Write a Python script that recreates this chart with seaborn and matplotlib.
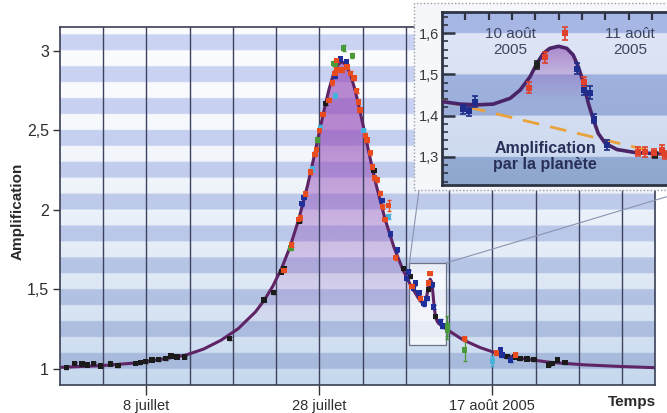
import numpy as np
import pandas as pd
import matplotlib
matplotlib.use("Agg")
import matplotlib.pyplot as plt
import seaborn as sns
from matplotlib.patches import Rectangle, ConnectionPatch
from matplotlib.ticker import MultipleLocator
from matplotlib import font_manager

# ---------------------------------------------------------------
# Light curve of the microlensing event (days counted from 8 July 2005)
# ---------------------------------------------------------------
curve_day = [-10.0, -5.4, -1.4, 2.6, 4.6, 6.6, 8.6, 10.6, 12.6, 13.6, 14.6, 15.6,
             16.6, 17.6, 18.6, 19.1, 19.6, 20.1, 20.6, 21.1, 21.6, 22.1, 22.6,
             23.1, 23.6, 24.1, 24.6, 25.1, 25.6, 26.1, 26.6, 27.6, 28.6, 29.6,
             30.6, 31.6, 31.9, 32.2, 32.45, 32.65, 32.8, 32.95, 33.1, 33.25,
             33.4, 33.6, 33.8, 34.6, 36.6, 38.6, 40.6, 42.6, 46.6, 50.6, 54.6, 58.8]
curve_amp = [1.010, 1.020, 1.037, 1.068, 1.088, 1.125, 1.180, 1.253, 1.359, 1.431,
             1.520, 1.630, 1.768, 1.940, 2.149, 2.267, 2.391, 2.519, 2.644, 2.758,
             2.851, 2.912, 2.933, 2.912, 2.851, 2.758, 2.644, 2.519, 2.391, 2.267,
             2.149, 1.940, 1.768, 1.630, 1.520, 1.431, 1.415, 1.420, 1.470, 1.540,
             1.565, 1.550, 1.490, 1.400, 1.335, 1.300, 1.285, 1.253, 1.183, 1.134,
             1.097, 1.072, 1.042, 1.026, 1.016, 1.008]

# Observations, one group per telescope colour
black_day = [-9.25, -8.3, -7.45, -6.85, -6.1, -5.3, -4.15, -3.3, -1.25, -0.7, -0.1,
             0.65, 1.4, 2.2, 2.85, 3.55, 4.4, 9.6, 13.6, 14.7, 15.6, 15.9, 17.7,
             20.7, 26.3, 29.75, 30.5, 32.6, 33.4, 41.7, 42.6, 43.2, 44.0, 44.8,
             46.5, 46.9, 47.5, 48.4]
black_amp = [1.008, 1.036, 1.030, 1.025, 1.036, 1.019, 1.030, 1.021, 1.036, 1.039,
             1.046, 1.057, 1.061, 1.065, 1.082, 1.074, 1.074, 1.193, 1.434, 1.48,
             1.61, 1.633, 1.93, 2.67, 2.25, 1.63, 1.58, 1.50, 1.33, 1.077, 1.075,
             1.067, 1.063, 1.061, 1.025, 1.036, 1.057, 1.040]
black_err = [0.008] * len(black_day)

red_day = [15.9, 16.8, 17.6, 17.8, 18.4, 19.0, 19.5, 19.65, 20.0, 20.4, 21.1, 21.5,
           21.8, 22.0, 22.0, 22.6, 23.2, 23.6, 24.0, 24.3, 24.5, 24.7, 25.3, 25.5,
           25.9, 26.1, 26.4, 26.7, 27.05, 27.3, 27.6, 28.0, 28.8, 30.7, 31.7, 32.6,
           32.8, 36.8, 40.5, 42.7]
red_amp = [1.62, 1.78, 1.94, 1.95, 2.10, 2.24, 2.35, 2.38, 2.50, 2.60, 2.69, 2.80,
           2.86, 2.88, 2.94, 2.88, 2.90, 2.86, 2.83, 2.75, 2.68, 2.63, 2.47, 2.44,
           2.36, 2.27, 2.20, 2.19, 2.105, 2.02, 1.94, 2.03, 1.70, 1.52, 1.445, 1.54,
           1.60, 1.19, 1.10, 1.088]
red_err = [0.012] * 31 + [0.035] + [0.012] * 8

blue_day = [18.0, 18.2, 21.85, 22.4, 23.1, 27.25, 28.2, 29.0, 30.1, 30.3, 30.9,
            31.1, 31.5, 32.1, 32.45, 33.0, 33.2, 34.0, 34.2, 40.9, 41.1, 42.1]
blue_amp = [2.04, 2.08, 2.84, 2.95, 2.93, 2.06, 1.85, 1.75, 1.57, 1.61, 1.51,
            1.54, 1.48, 1.41, 1.445, 1.53, 1.39, 1.30, 1.27, 1.12, 1.088, 1.057]
blue_err = [0.012] * len(blue_day)

green_day = [16.7, 19.8, 21.7, 21.85, 22.8, 23.8, 34.75, 34.8, 36.8]
green_amp = [1.76, 2.44, 2.92, 2.92, 3.02, 2.97, 1.27, 1.24, 1.12]
green_err = [0.012, 0.012, 0.015, 0.015, 0.02, 0.015, 0.06, 0.05, 0.07]

cyan_day = [19.2, 20.1, 21.85, 25.1, 28.0, 40.0]
cyan_amp = [2.26, 2.52, 2.72, 2.50, 1.96, 1.05]
cyan_err = [0.012, 0.012, 0.015, 0.012, 0.015, 0.03]

main_ticks = [0, 20, 40]
main_tick_labels = ["8 juillet", "28 juillet", "17 août 2005"]
main_yticks = [1, 1.5, 2, 2.5, 3]
main_ytick_labels = ["1", "1,5", "2", "2,5", "3"]

# Zoom on the planetary anomaly (hours)
inset_h = [0, 3.1, 6.0, 8.8, 11.7, 13.4, 15.1, 16.3, 17.4, 18.5, 20.0, 21.4, 22.5,
           23.4, 24.3, 25.1, 26.0, 26.8, 28.0, 30.0, 33.4, 38.6]
inset_amp = [1.434, 1.428, 1.426, 1.428, 1.442, 1.462, 1.494, 1.527, 1.551, 1.563,
             1.568, 1.563, 1.547, 1.518, 1.478, 1.430, 1.389, 1.357, 1.333, 1.318,
             1.310, 1.307]
no_planet_h = [0, 38.6]
no_planet_amp = [1.436, 1.305]

ins_blue_h = [3.55, 4.7, 5.7, 23.1, 24.4, 25.4, 26.0, 28.3]
ins_blue_amp = [1.415, 1.411, 1.434, 1.514, 1.462, 1.456, 1.393, 1.329]
ins_blue_err = [0.011, 0.011, 0.013, 0.014, 0.012, 0.015, 0.012, 0.012]
ins_black_h = [16.3, 36.6]
ins_black_amp = [1.522, 1.305]
ins_black_err = [0.010, 0.008]
ins_red_h = [14.9, 17.7, 21.1, 24.4, 33.7, 34.9, 36.3, 37.7, 38.3]
ins_red_amp = [1.468, 1.541, 1.599, 1.482, 1.313, 1.313, 1.309, 1.317, 1.305]
ins_red_err = [0.013, 0.013, 0.016, 0.012, 0.010, 0.012, 0.010, 0.012, 0.010]
inset_yticks = [1.3, 1.4, 1.5, 1.6]
inset_ytick_labels = ["1,3", "1,4", "1,5", "1,6"]

# ---------------------------------------------------------------
sns.set_theme(style="white")
installed = {f.name for f in font_manager.fontManager.ttflist}
NARROW = "Liberation Sans Narrow" if "Liberation Sans Narrow" in installed else "Liberation Sans"
plt.rcParams["font.family"] = ["Liberation Sans", "DejaVu Sans"]

W, H = 667, 413
fig = plt.figure(figsize=(W / 100, H / 100), dpi=100)
fig.patch.set_facecolor("white")


def hex2rgb(h):
    h = h.lstrip("#")
    return np.array([int(h[i:i + 2], 16) / 255 for i in (0, 2, 4)])


def band_image(ymin, ymax, top_blue, bot_blue, top_light, bot_light, gb, gl, n=1600):
    a = np.linspace(ymax, ymin, n)
    t = np.clip((ymax - a) / (ymax - ymin), 0, 1)
    tb, tl = t ** gb, t ** gl
    blue = (1 - tb)[:, None] * hex2rgb(top_blue) + tb[:, None] * hex2rgb(bot_blue)
    light = (1 - tl)[:, None] * hex2rgb(top_light) + tl[:, None] * hex2rgb(bot_light)
    is_blue = (np.floor(a * 10 + 1e-9).astype(int) % 2) == 0
    rgb = np.where(is_blue[:, None], blue, light)
    return rgb[:, None, :]


def gradient_fill(axis, x, y, ymin, ymax, xlim, color, a0, a1, amax, z):
    n = 800
    a = np.linspace(ymax, ymin, n)
    img = np.zeros((n, 1, 4))
    img[..., :3] = hex2rgb(color)
    img[:, 0, 3] = np.clip((a - a0) / (a1 - a0), 0, 1) * amax
    im = axis.imshow(img, extent=[xlim[0], xlim[1], ymin, ymax], aspect="auto",
                     zorder=z, interpolation="bilinear")
    poly = axis.fill_between(x, y, ymin, color="none", lw=0)
    im.set_clip_path(poly.get_paths()[0], transform=axis.transData)


# ---------------- main panel ----------------
XL, YL = (-10, 58.8), (0.899, 3.151)
ax = fig.add_axes([60 / W, 1 - 385 / H, (655 - 60) / W, (385 - 27) / H])
ax.imshow(band_image(YL[0], YL[1], "#ccd4f4", "#a4b8da", "#fbfcfe", "#c6d8ee", 1.5, 1.8),
          extent=[XL[0], XL[1], YL[0], YL[1]], aspect="auto", zorder=0.1,
          interpolation="bilinear")
gradient_fill(ax, curve_day, curve_amp, YL[0], YL[1], XL, "#9040b4", 1.2, 2.5, 0.62, 0.2)

ax.add_patch(Rectangle((30.4, 1.151), 4.28, 0.516, facecolor=(1, 1, 1, 0.72),
                       edgecolor="#6d7488", lw=0.9, zorder=2.5))

sns.lineplot(x=curve_day, y=curve_amp, ax=ax, color="#5e2466", lw=2.2,
             estimator=None, sort=False, zorder=4)

groups = [
    ("black", black_day, black_amp, black_err, "#1b1b1b"),
    ("green", green_day, green_amp, green_err, "#4a9a3a"),
    ("blue", blue_day, blue_amp, blue_err, "#1f2f9a"),
    ("cyan", cyan_day, cyan_amp, cyan_err, "#45b2dc"),
    ("red", red_day, red_amp, red_err, "#e84b1e"),
]
frames = []
for name, d, a, e, c in groups:
    frames.append(pd.DataFrame({"day": d, "amp": a, "err": e, "site": name}))
    ax.errorbar(d, a, yerr=e, fmt="none", ecolor=c, elinewidth=0.9, capsize=1.2, zorder=5)
obs = pd.concat(frames, ignore_index=True)
sns.scatterplot(data=obs, x="day", y="amp", hue="site",
                palette={n: c for n, _, _, _, c in groups}, marker="s", s=15,
                linewidth=0, legend=False, ax=ax, zorder=6)

ax.set_xlim(*XL)
ax.set_ylim(*YL)
ax.set_xticks(main_ticks)
ax.set_xticklabels(main_tick_labels)
ax.set_xticks(np.arange(-5, 56, 5), minor=True)
ax.set_yticks(main_yticks)
ax.set_yticklabels(main_ytick_labels)
ax.grid(True, axis="x", which="both", color="#3d4260", lw=1.0, zorder=0.5)
ax.grid(False, axis="y")
ax.set_axisbelow(False)
for gl in ax.get_xgridlines():
    gl.set_zorder(0.5)
ax.set_xlabel("")
ax.set_ylabel("")
ax.tick_params(axis="x", which="major", bottom=True, length=7, width=1, color="#333333",
               direction="out", pad=3, labelsize=10.5, labelcolor="#2e2e2e")
ax.tick_params(axis="x", which="minor", bottom=False, length=0)
ax.tick_params(axis="y", left=True, length=5, width=1, color="#333333", direction="out",
               pad=3, labelsize=11.5, labelcolor="#2e2e2e")
for s in ax.spines.values():
    s.set_color("#3a3f55")
    s.set_linewidth(1.2)
    s.set_zorder(7)

fig.text(18 / W, 1 - 211 / H, "Amplification", rotation=90, ha="center", va="center",
         fontsize=11, fontweight="bold", color="#2a2a2a", family=[NARROW, "DejaVu Sans"])
fig.text(656 / W, 1 - 402 / H, "Temps", ha="right", va="center", fontsize=11,
         fontweight="bold", color="#2a2a2a", family=[NARROW, "DejaVu Sans"])

# ---------------- zoom panel ----------------
fig.add_artist(ConnectionPatch(xyA=(30.4, 1.667), coordsA=ax.transData,
                               xyB=(419 / W, 1 - 190 / H), coordsB=fig.transFigure,
                               color="#8a94b0", lw=0.8, zorder=4.5))
fig.add_artist(ConnectionPatch(xyA=(34.68, 1.667), coordsA=ax.transData,
                               xyB=(689 / W, 1 - 190 / H), coordsB=fig.transFigure,
                               color="#8a94b0", lw=0.8, zorder=4.5))
fig.add_artist(Rectangle((414 / W, 1 - 190 / H), (680 - 414) / W, (190 - 3) / H,
                         transform=fig.transFigure, facecolor="#f6f7fa",
                         edgecolor="#9a9aa5", ls=(0, (1, 1.5)), lw=1.0, zorder=5))

IXL, IYL = (0, 38.6), (1.232, 1.651)
ax2 = fig.add_axes([442 / W, 1 - 185 / H, (667 - 442) / W, (185 - 12) / H], zorder=6)
ax2.imshow(band_image(IYL[0], IYL[1], "#a8b8e6", "#8ea6ce", "#e0e6f6", "#c9d7ee", 1.2, 1.2),
           extent=[IXL[0], IXL[1], IYL[0], IYL[1]], aspect="auto", zorder=0.1,
           interpolation="bilinear")
gradient_fill(ax2, inset_h, inset_amp, IYL[0], IYL[1], IXL, "#8a4ab0", 1.43, 1.56, 0.55, 0.2)

sns.lineplot(x=no_planet_h, y=no_planet_amp, ax=ax2, color="#eaa23a", lw=2.0,
             dashes=False, estimator=None, sort=False, zorder=3).lines[-1].set_dashes((6, 4))
sns.lineplot(x=inset_h, y=inset_amp, ax=ax2, color="#4a2468", lw=2.6,
             estimator=None, sort=False, zorder=4)

for d, a, e, c in [(ins_blue_h, ins_blue_amp, ins_blue_err, "#1f2d8c"),
                   (ins_black_h, ins_black_amp, ins_black_err, "#202020"),
                   (ins_red_h, ins_red_amp, ins_red_err, "#e0412a")]:
    ax2.errorbar(d, a, yerr=e, fmt="none", ecolor=c, elinewidth=1.2, capsize=2.5,
                 capthick=1.2, zorder=5)
    sns.scatterplot(x=d, y=a, color=c, marker="s", s=16, linewidth=0, ax=ax2, zorder=6)

ax2.text(11.7, 1.578, "10 août\n2005", ha="center", va="center", fontsize=11,
         color="#3b4560", linespacing=1.15, family=[NARROW, "DejaVu Sans"])
ax2.text(32.3, 1.578, "11 août\n2005", ha="center", va="center", fontsize=11,
         color="#3b4560", linespacing=1.15, family=[NARROW, "DejaVu Sans"])
ax2.text(17.7, 1.301, "Amplification\npar la planète", ha="center", va="center",
         fontsize=11.5, fontweight="bold", color="#283058", linespacing=1.05,
         family=[NARROW, "DejaVu Sans"])

ax2.set_xlim(*IXL)
ax2.set_ylim(*IYL)
ax2.set_xticks(np.arange(4, 39, 4))
ax2.set_yticks(inset_yticks)
ax2.set_yticklabels(inset_ytick_labels)
ax2.yaxis.set_minor_locator(MultipleLocator(0.02))
ax2.xaxis.set_ticks_position("top")
ax2.tick_params(axis="x", top=True, bottom=False, labeltop=False, labelbottom=False,
                direction="in", length=6, width=1.6, color="#2e3444")
ax2.tick_params(axis="y", which="major", left=True, direction="in", length=9, width=1.8,
                color="#2e3444", pad=2, labelsize=10.5, labelcolor="#3a3a3a")
ax2.tick_params(axis="y", which="minor", left=True, direction="in", length=4, width=1.2,
                color="#2e3444")
ax2.set_xlabel("")
ax2.set_ylabel("")
ax2.grid(False)
for k, s in ax2.spines.items():
    s.set_color("#2e3444")
    s.set_linewidth(2.0)
ax2.spines["right"].set_visible(False)

fig.savefig("out.png", dpi=100)
